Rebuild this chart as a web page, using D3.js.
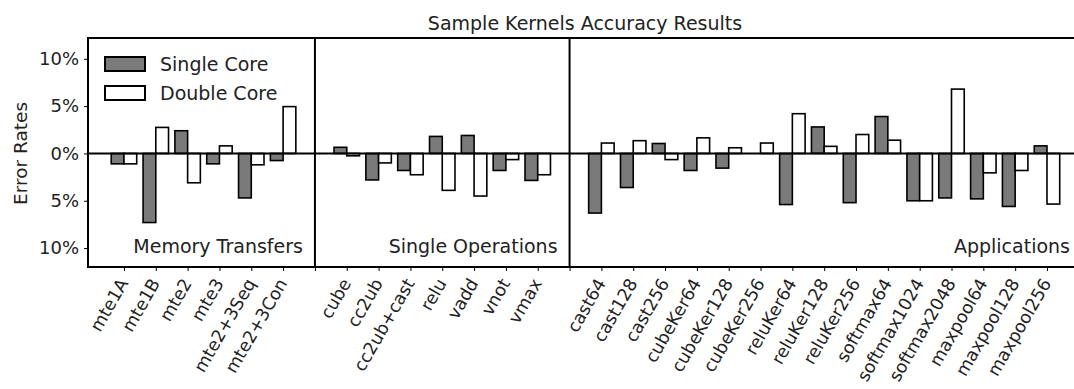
<!DOCTYPE html>
<html>
<head>
<meta charset="utf-8">
<script src="https://cdn.jsdelivr.net/npm/d3@7"></script>
<style>
  body { margin: 0; background: #fff; overflow: hidden; }
  svg { display: block; font-family: "DejaVu Sans", sans-serif; }
</style>
</head>
<body>
<svg></svg>
<script>
// kernel groups
var memCats = ["mte1A", "mte1B", "mte2", "mte3", "mte2+3Seq", "mte2+3Con"];
var opCats = ["cube", "cc2ub", "cc2ub+cast", "relu", "vadd", "vnot", "vmax"];
var appCats = ["cast64", "cast128", "cast256", "cubeKer64", "cubeKer128", "cubeKer256",
  "reluKer64", "reluKer128", "reluKer256", "softmax64", "softmax1024", "softmax2048",
  "maxpool64", "maxpool128", "maxpool256"];
var groupNames = ["Memory Transfers", "Single Operations", "Applications"];

// error rates in %
var memSingle = [-1.1, -7.3, 2.4, -1.1, -4.7, -0.75];
var memDouble = [-1.1, 2.75, -3.1, 0.8, -1.2, 4.95];
var opSingle = [0.65, -2.8, -1.8, 1.8, 1.9, -1.8, -2.85];
var opDouble = [-0.25, -1.0, -2.25, -3.9, -4.5, -0.65, -2.25];
var appSingle = [-6.3, -3.6, 1.05, -1.8, -1.55, 0.0, -5.4, 2.8, -5.2, 3.9, -5.0, -4.7, -4.8, -5.6, 0.8];
var appDouble = [1.1, 1.35, -0.65, 1.65, 0.6, 1.1, 4.2, 0.75, 2.0, 1.4, -5.0, 6.8, -2.05, -1.8, -5.35];

var yTicks = [-10, -5, 0, 5, 10];

var width = 1074, height = 389;
var margins = {top: 38, right: -8, bottom: 122, left: 88};

var svg = d3.select("svg")
  .attr("width", width)
  .attr("height", height);

// lay the groups out along one index with a gap slot between them
var groups = [
  {cats: memCats, s: memSingle, d: memDouble},
  {cats: opCats, s: opSingle, d: opDouble},
  {cats: appCats, s: appSingle, d: appDouble}
];
var rows = [], dividers = [], pos = 0;
groups.forEach(function(g, gi){
  g.cats.forEach(function(c, i){
    rows.push({name: c, x: pos, single: g.s[i], double: g.d[i]});
    pos++;
  });
  if (gi < groups.length - 1) { dividers.push(pos); pos++; }
});

var xScale = d3.scaleLinear()
  .domain([-1.13, 30.1])
  .range([margins.left, width - margins.right]);
var yScale = d3.scaleLinear()
  .domain([-12, 12.2])
  .range([height - margins.bottom, margins.top]);

var bw = 0.4;
var plot = svg.append("g");

plot.selectAll("rect.single")
  .data(rows)
  .enter()
  .append("rect")
  .attr("class", "single")
  .attr("x", function(d){ return xScale(d.x - bw); })
  .attr("width", function(d){ return xScale(bw) - xScale(0); })
  .attr("y", function(d){ return yScale(Math.max(0, d.single)); })
  .attr("height", function(d){ return Math.abs(yScale(d.single) - yScale(0)); })
  .attr("fill", "#7a7a7a")
  .attr("stroke", "#000")
  .attr("stroke-width", 1.6);

plot.selectAll("rect.double")
  .data(rows)
  .enter()
  .append("rect")
  .attr("class", "double")
  .attr("x", function(d){ return xScale(d.x); })
  .attr("width", function(d){ return xScale(bw) - xScale(0); })
  .attr("y", function(d){ return yScale(Math.max(0, d.double)); })
  .attr("height", function(d){ return Math.abs(yScale(d.double) - yScale(0)); })
  .attr("fill", "#fff")
  .attr("stroke", "#000")
  .attr("stroke-width", 1.6);

// zero line
plot.append("line")
  .attr("x1", xScale.range()[0]).attr("x2", xScale.range()[1])
  .attr("y1", yScale(0)).attr("y2", yScale(0))
  .attr("stroke", "#000").attr("stroke-width", 2);

// group dividers
plot.selectAll("line.div")
  .data(dividers)
  .enter()
  .append("line")
  .attr("class", "div")
  .attr("x1", function(d){ return xScale(d); })
  .attr("x2", function(d){ return xScale(d); })
  .attr("y1", yScale.range()[1]).attr("y2", yScale.range()[0])
  .attr("stroke", "#000").attr("stroke-width", 2);

// group names
var groupEnds = dividers.concat([xScale.domain()[1]]);
plot.selectAll("text.group")
  .data(groupNames)
  .enter()
  .append("text")
  .attr("class", "group")
  .attr("x", function(d, i){ return xScale(groupEnds[i]) - 12; })
  .attr("y", 253)
  .attr("text-anchor", "end")
  .attr("font-size", 19)
  .attr("fill", "#222")
  .text(function(d){ return d; });

// frame
svg.append("rect")
  .attr("x", xScale.range()[0])
  .attr("y", yScale.range()[1])
  .attr("width", xScale.range()[1] - xScale.range()[0])
  .attr("height", yScale.range()[0] - yScale.range()[1])
  .attr("fill", "none")
  .attr("stroke", "#000")
  .attr("stroke-width", 2);

// y axis
var yAxis = d3.axisLeft(yScale)
  .tickValues(yTicks)
  .tickSize(4)
  .tickPadding(5)
  .tickFormat(function(d){ return Math.abs(d) + "%"; });
var yg = svg.append("g")
  .attr("transform", "translate(" + xScale.range()[0] + ",0)")
  .call(yAxis);
yg.select(".domain").remove();
yg.selectAll("text").attr("font-size", 18).attr("fill", "#222").attr("font-family", "DejaVu Sans");

// x axis
var labelByPos = {};
rows.forEach(function(r){ labelByPos[r.x] = r.name; });
var xAxis = d3.axisBottom(xScale)
  .tickValues(rows.map(function(r){ return r.x; }).concat(dividers))
  .tickSize(4)
  .tickFormat(function(d){ return labelByPos[d] || ""; });
var xg = svg.append("g")
  .attr("transform", "translate(0," + yScale.range()[0] + ")")
  .call(xAxis);
xg.select(".domain").remove();
xg.selectAll("text")
  .attr("font-size", 17.5)
  .attr("fill", "#222")
  .attr("font-family", "DejaVu Sans")
  .attr("text-anchor", "end")
  .attr("dy", "0.35em")
  .attr("y", 0)
  .attr("transform", "translate(-1,13) rotate(-60)");

// title
svg.append("text")
  .attr("x", (xScale.range()[0] + xScale.range()[1]) / 2)
  .attr("y", 30)
  .attr("text-anchor", "middle")
  .attr("font-size", 19)
  .attr("fill", "#222")
  .text("Sample Kernels Accuracy Results");

// y label
svg.append("text")
  .attr("transform", "translate(27," + yScale(0) + ") rotate(-90)")
  .attr("text-anchor", "middle")
  .attr("font-size", 18.5)
  .attr("fill", "#222")
  .text("Error Rates");

// legend
var legend = [
  {label: "Single Core", fill: "#7a7a7a"},
  {label: "Double Core", fill: "#fff"}
];
var lg = svg.append("g").selectAll("g")
  .data(legend)
  .enter()
  .append("g")
  .attr("transform", function(d, i){ return "translate(105," + (57 + i * 29) + ")"; });
lg.append("rect")
  .attr("width", 40).attr("height", 14)
  .attr("fill", function(d){ return d.fill; })
  .attr("stroke", "#000").attr("stroke-width", 2);
lg.append("text")
  .attr("x", 55).attr("y", 14)
  .attr("font-size", 19)
  .attr("fill", "#222")
  .text(function(d){ return d.label; });
</script>
</body>
</html>
